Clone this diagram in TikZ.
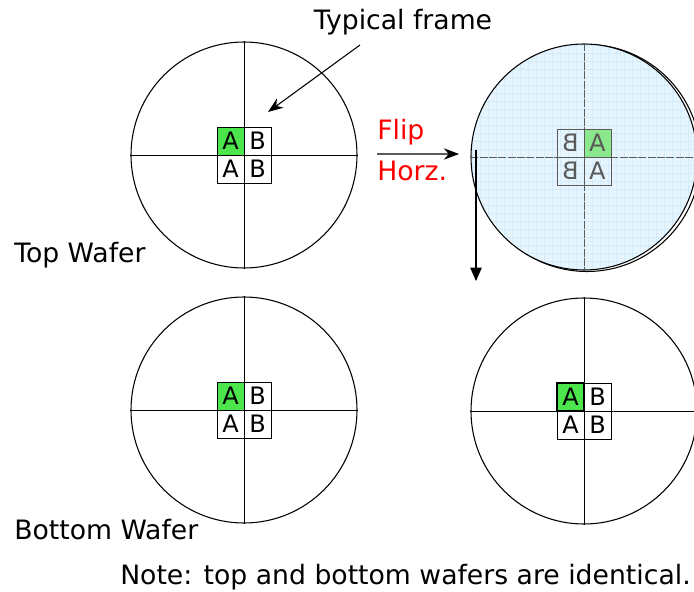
\documentclass[tikz,border=0pt]{standalone}
\usepackage{fontspec}
\setmainfont{DejaVu Sans}
\usetikzlibrary{arrows.meta, positioning, calc}
\definecolor{cellgreen}{HTML}{4CE64C}
\definecolor{ghostgreen}{HTML}{8CE88C}
\definecolor{waferblue}{HTML}{E6F4FD}
\definecolor{gridblue}{HTML}{D2ECFB}
\definecolor{ghostgray}{HTML}{5A5A5A}
\definecolor{fliprd}{HTML}{FF0000}
\tikzset{
  wafer/.style={draw=black, thick, circle, minimum size=169.5pt, inner sep=0pt},
  axis/.style={draw=black, thin},
  cell/.style={draw=black, thin, minimum width=20.25pt, minimum height=21pt,
               inner sep=0pt, font=\fontsize{18}{18}\selectfont},
  gcell/.style={cell, fill=cellgreen},
  ghost/.style={draw=ghostgray, thin, minimum width=20.25pt, minimum height=21pt,
                inner sep=0pt, text=ghostgray, font=\fontsize{18}{18}\selectfont},
  lbl/.style={font=\fontsize{20}{22}\selectfont, inner sep=0pt},
  flow/.style={-{Stealth[length=4mm, width=3mm, color=black]}, thick},
  drop/.style={-{Triangle[length=3.5mm, width=3mm]}, thick},
}
\begin{document}
\begin{tikzpicture}[x=0.75pt, y=-0.75pt]
  \useasboundingbox (0,0) rectangle (694,592);
  % flipped wafer, with its shadow
  \draw[thick] (587,158) circle (113.5*0.75pt);
  \node[wafer, fill=waferblue, path picture={
        \draw[gridblue, very thin, step=6pt]
          (path picture bounding box.south west) grid (path picture bounding box.north east);}]
        (tr) at (584,157) {};
  \draw[ghostgray, dash pattern=on 6pt off 1pt] (tr.west) -- (tr.east);
  \draw[ghostgray, dash pattern=on 6pt off 1pt] (tr.north) -- (tr.south);
  \node[ghost] (tr00) at ($(tr)+(-13.5,-14)$) {\reflectbox{B}};
  \node[ghost, fill=ghostgreen] (tr01) at ($(tr)+(13.5,-14)$) {\reflectbox{A}};
  \node[ghost] (tr10) at ($(tr)+(-13.5,14)$) {\reflectbox{B}};
  \node[ghost] (tr11) at ($(tr)+(13.5,14)$) {\reflectbox{A}};
  % the other three wafers
  \foreach \w/\x/\y in {tl/244/155, bl/244/410, br/584/411}{
    \node[wafer] (\w) at (\x,\y) {};
    \draw[axis] (\w.west) -- (\w.east);
    \draw[axis] (\w.north) -- (\w.south);
    \node[gcell] (\w00) at ($(\w)+(-13.5,-14)$) {A};
    \node[cell] (\w01) at ($(\w)+(13.5,-14)$) {B};
    \node[cell] (\w10) at ($(\w)+(-13.5,14)$) {A};
    \node[cell] (\w11) at ($(\w)+(13.5,14)$) {B};
  }
  \draw[very thick] (br00.south west) rectangle (br00.north east);
  % labels
  \node[lbl] (typ) at (403,22) {Typical frame};
  \node[lbl, anchor=west] (toplbl) at (14,255) {Top Wafer};
  \node[lbl, anchor=west] (botlbl) at (14,530) {Bottom Wafer};
  \node[lbl, anchor=west] (note) at (120,577) {Note: top and bottom wafers are identical.};
  \node[lbl, anchor=west, text=fliprd] (flip) at (377,132) {Flip};
  \node[lbl, anchor=west, text=fliprd] (horz) at (377,171) {Horz.};
  % arrows
  \coordinate (typfrom) at (360,45);
  \coordinate (typto) at (268,112);
  \coordinate (flipfrom) at (377,154);
  \coordinate (flipto) at (459,154);
  \coordinate (dropfrom) at (476,150);
  \coordinate (dropto) at (476,281);
  \draw[flow] (typfrom) -- (typto);
  \draw[flow, draw=ghostgray] (flipfrom) -- (flipto);
  \draw[drop] (dropfrom) -- (dropto);
\end{tikzpicture}
\end{document}
